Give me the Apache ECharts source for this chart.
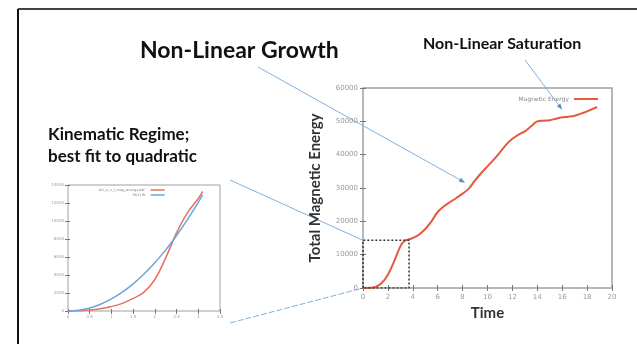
<!DOCTYPE html>
<html>
<head>
<meta charset="utf-8">
<script src="https://cdn.jsdelivr.net/npm/echarts@6/dist/echarts.min.js"></script>
<style>
  html, body { margin: 0; padding: 0; background: #fff; }
  #chart { width: 637px; height: 344px; }
</style>
</head>
<body>
<div id="chart"></div>
<script>
// main chart: total magnetic energy vs time
const mainTime = [0, 0.5, 1, 1.5, 2, 2.5, 3, 3.3, 3.6, 4, 4.5, 5, 5.5, 6, 6.5, 7, 7.5, 8, 8.5, 9, 9.5, 10, 10.5, 11, 11.5, 12, 12.5, 13, 13.5, 14, 14.5, 15, 15.5, 16, 16.5, 17, 17.5, 18, 18.8];
const mainEnergy = [0, 50, 300, 1500, 4000, 8000, 12500, 14000, 14500, 15000, 16000, 17700, 20000, 22800, 24500, 25800, 27000, 28300, 29800, 32300, 34500, 36500, 38500, 40700, 43000, 44800, 46000, 47000, 48500, 50000, 50200, 50300, 50800, 51200, 51400, 51700, 52300, 53000, 54300];
// zoom box on main chart (kinematic regime)
const boxTime = [0, 0, 3.7, 3.7, 0];
const boxEnergy = [0, 14300, 14300, 0, 0];

// inset: kinematic regime + quadratic fit
const insetTime = [0, 0.25, 0.5, 0.75, 1, 1.25, 1.5, 1.75, 2, 2.25, 2.4, 2.5, 2.75, 3, 3.1];
const insetEnergy = [0, 30, 100, 250, 500, 850, 1400, 2100, 3500, 5900, 7600, 8700, 10900, 12500, 13300];
const fitEnergy = [0, 85, 335, 755, 1340, 2100, 3020, 4110, 5370, 6790, 7730, 8390, 10150, 12080, 12900];

const labelGray = '#9a9a9a';
const frameGray = '#a0a0a0';
const arrowBlue = '#7fb0e0';

const chart = echarts.init(document.getElementById('chart'));

function plain(v) {
  return String(v);
}

function frameAxis(gridIndex, pos) {
  return {
    gridIndex: gridIndex, position: pos, type: 'value',
    axisLine: { show: false },
    axisLabel: { show: false },
    axisTick: { show: true, inside: true, length: 3, lineStyle: { color: '#777' } },
    splitLine: { show: false }
  };
}

const option = {
  animation: false,
  grid: [
    { left: 363, top: 88, width: 249, height: 200, show: true, borderColor: frameGray, borderWidth: 1.5 },
    { left: 68, top: 185, width: 152, height: 126, show: true, borderColor: frameGray, borderWidth: 1 }
  ],
  xAxis: [
    {
      gridIndex: 0, type: 'value', min: 0, max: 20, interval: 2,
      name: 'Time', nameLocation: 'middle', nameGap: 16,
      nameTextStyle: { fontFamily: 'Lato', fontWeight: 'bold', fontSize: 15, color: '#333' },
      axisLine: { show: false },
      axisTick: { show: true, inside: true, length: 3, lineStyle: { color: '#777' } },
      axisLabel: { color: labelGray, fontSize: 7, margin: 6, fontFamily: 'DejaVu Sans', formatter: plain },
      splitLine: { show: false }
    },
    Object.assign(frameAxis(0, 'top'), { min: 0, max: 20, interval: 2 }),
    {
      gridIndex: 1, type: 'value', min: 0, max: 3.5, interval: 0.5,
      axisLine: { show: false },
      axisTick: { show: true, inside: true, length: 2, lineStyle: { color: '#777' } },
      axisLabel: { color: labelGray, fontSize: 4, margin: 4, fontFamily: 'DejaVu Sans', formatter: plain },
      splitLine: { show: false }
    },
    Object.assign(frameAxis(1, 'top'), { min: 0, max: 3.5, interval: 0.5 })
  ],
  yAxis: [
    {
      gridIndex: 0, type: 'value', min: 0, max: 60000, interval: 10000,
      name: 'Total Magnetic Energy', nameLocation: 'middle', nameGap: 40, nameRotate: 90,
      nameTextStyle: { fontFamily: 'Lato', fontWeight: 'bold', fontSize: 15, color: '#333' },
      axisLine: { show: false },
      axisTick: { show: true, inside: true, length: 3, lineStyle: { color: '#777' } },
      axisLabel: { color: labelGray, fontSize: 7, margin: 5, fontFamily: 'DejaVu Sans', formatter: plain },
      splitLine: { show: false }
    },
    Object.assign(frameAxis(0, 'right'), { min: 0, max: 60000, interval: 10000 }),
    {
      gridIndex: 1, type: 'value', min: 0, max: 14000, interval: 2000,
      axisLine: { show: false },
      axisTick: { show: true, inside: true, length: 2, lineStyle: { color: '#777' } },
      axisLabel: { color: labelGray, fontSize: 4, margin: 4, fontFamily: 'DejaVu Sans', formatter: plain },
      splitLine: { show: false }
    },
    Object.assign(frameAxis(1, 'right'), { min: 0, max: 14000, interval: 2000 })
  ],
  legend: [
    {
      data: ['Magnetic Energy'], right: 34, top: 91, align: 'right',
      icon: 'rect', itemWidth: 24, itemHeight: 2, itemGap: 4,
      textStyle: { color: '#888', fontSize: 6, fontFamily: 'DejaVu Sans', padding: [0, 0, 0, 0] }
    },
    {
      data: ["'tot_e_u_t_mag_energy.dat'", 'fit(x) fit'], left: 98, top: 188, orient: 'vertical',
      align: 'right', icon: 'rect', itemWidth: 14, itemHeight: 1.5, itemGap: 1, padding: 0,
      textStyle: { color: '#888', fontSize: 3.5, fontFamily: 'DejaVu Sans' }
    }
  ],
  series: [
    {
      name: 'Magnetic Energy', type: 'line', xAxisIndex: 0, yAxisIndex: 0,
      data: mainTime.map((t, i) => [t, mainEnergy[i]]),
      smooth: 0.4, showSymbol: false, color: '#e35a3e',
      lineStyle: { width: 2, color: '#e35a3e' }
    },
    {
      name: 'zoom box', type: 'line', xAxisIndex: 0, yAxisIndex: 0,
      data: boxTime.map((t, i) => [t, boxEnergy[i]]),
      showSymbol: false, silent: true,
      lineStyle: { width: 1.5, color: '#333', type: [2, 2] }
    },
    {
      name: "'tot_e_u_t_mag_energy.dat'", type: 'line', xAxisIndex: 2, yAxisIndex: 2,
      data: insetTime.map((t, i) => [t, insetEnergy[i]]),
      smooth: 0.4, showSymbol: false, color: '#e8705e',
      lineStyle: { width: 1.5, color: '#e8705e' }
    },
    {
      name: 'fit(x) fit', type: 'line', xAxisIndex: 2, yAxisIndex: 2,
      data: insetTime.map((t, i) => [t, fitEnergy[i]]),
      smooth: 0.4, showSymbol: false, color: '#6aa6de',
      lineStyle: { width: 1.5, color: '#6aa6de' }
    }
  ]
};

chart.setOption(option);

// annotations: frame, captions and pointer lines
function px(x, y) {
  return chart.convertToPixel({ xAxisIndex: 0, yAxisIndex: 0 }, [x, y]);
}

function arrow(from, to) {
  const ang = Math.atan2(to[1] - from[1], to[0] - from[0]);
  const len = 6, w = 2.2;
  const bx = to[0] - len * Math.cos(ang), by = to[1] - len * Math.sin(ang);
  return [
    { type: 'line', shape: { x1: from[0], y1: from[1], x2: bx, y2: by }, style: { stroke: arrowBlue, lineWidth: 1 } },
    {
      type: 'polygon',
      shape: { points: [to, [bx - w * Math.sin(ang), by + w * Math.cos(ang)], [bx + w * Math.sin(ang), by - w * Math.cos(ang)]] },
      style: { fill: '#4f8fd0' }
    }
  ];
}

const boxCorner = px(0, 14300);
const origin = px(0, 0);

const graphics = [
  { type: 'line', shape: { x1: 18, y1: 9, x2: 637, y2: 9 }, style: { stroke: '#444', lineWidth: 2 } },
  { type: 'line', shape: { x1: 18, y1: 9, x2: 18, y2: 344 }, style: { stroke: '#111', lineWidth: 2 } },
  {
    type: 'text', style: { x: 140, y: 62, text: 'Non-Linear Growth', textVerticalAlign: 'bottom',
      font: 'bold 23px Lato', fill: '#111' }
  },
  {
    type: 'text', style: { x: 423, y: 52, text: 'Non-Linear Saturation', textVerticalAlign: 'bottom',
      font: 'bold 16px Lato', fill: '#111' }
  },
  {
    type: 'text', style: { x: 48, y: 143, text: 'Kinematic Regime;', textVerticalAlign: 'bottom',
      font: 'bold 17px Lato', fill: '#111' }
  },
  {
    type: 'text', style: { x: 48, y: 165, text: 'best fit to quadratic', textVerticalAlign: 'bottom',
      font: 'bold 17px Lato', fill: '#111' }
  },
  { type: 'line', shape: { x1: 230, y1: 180, x2: boxCorner[0], y2: boxCorner[1] }, style: { stroke: arrowBlue, lineWidth: 1 } },
  { type: 'line', shape: { x1: 230, y1: 323, x2: origin[0], y2: origin[1] }, style: { stroke: arrowBlue, lineWidth: 1, lineDash: [6, 2] } }
]
  .concat(arrow([258, 67], px(8.2, 31600)))
  .concat(arrow([525, 60], px(16, 53500)));

chart.setOption({ graphic: graphics });
</script>
</body>
</html>
